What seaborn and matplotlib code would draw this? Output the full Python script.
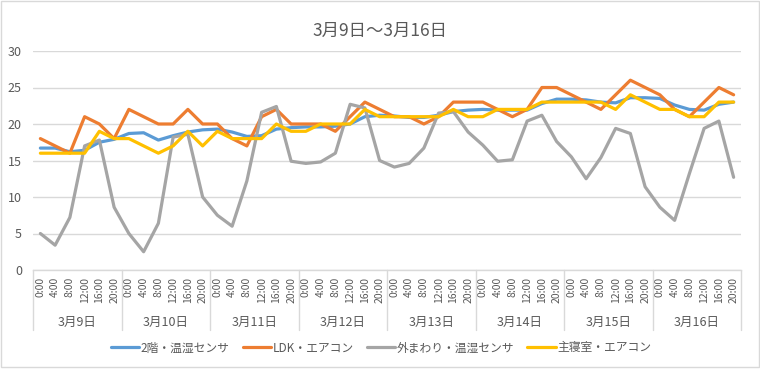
import matplotlib
matplotlib.use("Agg")
import matplotlib.pyplot as plt
import matplotlib.transforms as mtransforms
from matplotlib.patches import Rectangle
import seaborn as sns
import pandas as pd
import numpy as np

title = "3月9日～3月16日"
days = ["3月9日", "3月10日", "3月11日", "3月12日", "3月13日", "3月14日", "3月15日", "3月16日"]
times = ["0:00", "4:00", "8:00", "12:00", "16:00", "20:00"]
series_names = ["2階・温湿センサ", "LDK・エアコン", "外まわり・温湿センサ", "主寝室・エアコン"]

upstairs = [16.7, 16.7, 16.2, 16.4, 17.5, 17.9,
            18.7, 18.8, 17.8, 18.4, 18.9, 19.2,
            19.3, 18.9, 18.3, 18.4, 19.3, 19.5,
            19.6, 19.6, 19.7, 20.0, 21.0, 21.2,
            21.1, 20.9, 20.9, 21.2, 21.7, 21.9,
            22.0, 21.9, 21.9, 21.9, 22.8, 23.4,
            23.4, 23.3, 23.0, 22.9, 23.6, 23.6,
            23.5, 22.6, 22.0, 21.9, 22.7, 23.0]
ldk = [18, 17, 16, 21, 20, 18,
       22, 21, 20, 20, 22, 20,
       20, 18, 17, 21, 22, 20,
       20, 20, 19, 21, 23, 22,
       21, 21, 20, 21, 23, 23,
       23, 22, 21, 22, 25, 25,
       24, 23, 22, 24, 26, 25,
       24, 22, 21, 23, 25, 24]
outside = [5.0, 3.4, 7.2, 17.0, 17.8, 8.6,
           5.0, 2.5, 6.4, 18.2, 18.6, 10.0,
           7.5, 6.0, 12.2, 21.6, 22.4, 14.9,
           14.6, 14.8, 16.0, 22.7, 22.2, 15.0,
           14.1, 14.6, 16.7, 21.5, 21.7, 18.9,
           17.1, 14.9, 15.1, 20.4, 21.2, 17.6,
           15.5, 12.5, 15.4, 19.4, 18.7, 11.4,
           8.6, 6.8, 13.2, 19.4, 20.4, 12.7]
bedroom = [16, 16, 16, 16, 19, 18,
           18, 17, 16, 17, 19, 17,
           19, 18, 18, 18, 20, 19,
           19, 20, 20, 20, 22, 21,
           21, 21, 21, 21, 22, 21,
           21, 22, 22, 22, 23, 23,
           23, 23, 23, 22, 24, 23,
           22, 22, 21, 21, 23, 23]

colors = ["#5B9BD5", "#ED7D31", "#A5A5A5", "#FFC000"]

sns.set_theme(style="white")
plt.rcParams['font.family'] = ['Noto Sans CJK JP', 'DejaVu Sans']

n = len(days) * len(times)
idx = np.arange(n)
frames = []
for name, vals in zip(series_names, [upstairs, ldk, outside, bedroom]):
    frames.append(pd.DataFrame({"idx": idx, "value": vals, "series": name}))
df = pd.concat(frames, ignore_index=True)

fig = plt.figure(figsize=(7.6, 3.83), dpi=100)
ax = fig.add_axes([33/760, 1-270/383, (741-33)/760, (270-51)/383])

sns.lineplot(data=df, x="idx", y="value", hue="series", hue_order=series_names,
             palette=colors, linewidth=2.3, ax=ax, legend=False, sort=False)

ax.set_xlim(-0.5, n - 0.5)
ax.set_ylim(0, 30)
ax.set_yticks(np.arange(0, 31, 5))
ax.yaxis.grid(True, color="#D9D9D9", linewidth=1)
ax.set_axisbelow(True)
for s in ["top", "right", "left"]:
    ax.spines[s].set_visible(False)
ax.spines["bottom"].set_color("#D9D9D9")
ax.spines["bottom"].set_linewidth(1)
ax.set_xlabel("")
ax.set_ylabel("")
ax.tick_params(axis="y", length=0, labelsize=9, labelcolor="#595959", pad=8)
ax.set_xticks(idx)
ax.set_xticklabels(times * len(days), rotation=90, fontsize=7.5, color="#595959")
ax.tick_params(axis="x", length=0, pad=5)

trans = mtransforms.blended_transform_factory(ax.transData, ax.transAxes)
for d in range(len(days) + 1):
    xb = d * len(times) - 0.5
    ax.plot([xb, xb], [0, -60/219], transform=trans, color="#D9D9D9",
            linewidth=1, clip_on=False)
for d, lab in enumerate(days):
    xc = d * len(times) + (len(times) - 1) / 2
    ax.text(xc, -52/219, lab, transform=trans, ha="center", va="center",
            fontsize=9, color="#595959")

fig.suptitle(title, y=1-22/383, fontsize=12.5, color="#595959")

handles = [plt.Line2D([], [], color=c, linewidth=2.3) for c in colors]
fig.legend(handles, series_names, loc="center", bbox_to_anchor=(381/760, 1-348/383),
           ncol=4, frameon=False, fontsize=8.5, handlelength=2.4, handletextpad=0.15,
           columnspacing=1.1, labelcolor="#595959")

fig.patches.append(Rectangle((0.5/760, 1-367/383), 758/760, 366/383, transform=fig.transFigure,
                             fill=False, edgecolor="#D9D9D9", linewidth=1))

fig.savefig("out.png", dpi=100)
